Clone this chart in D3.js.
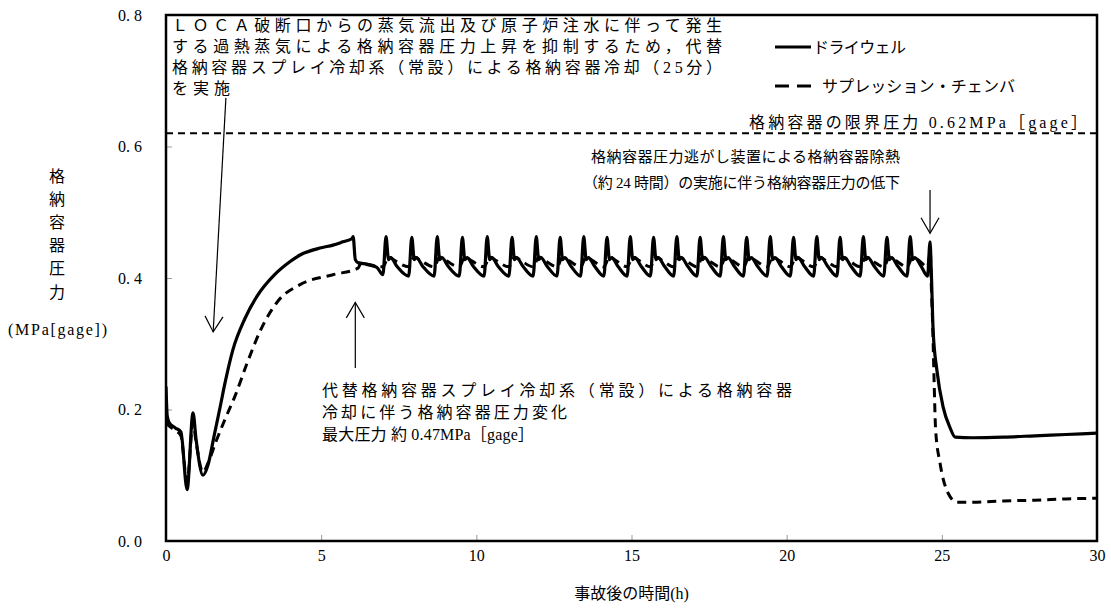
<!DOCTYPE html>
<html>
<head>
<meta charset="utf-8">
<script src="https://cdn.jsdelivr.net/npm/d3@7"></script>
<style>
  body { margin: 0; background: #fff; }
  svg text { fill: #000; }
  .jp { font-family: "Liberation Serif", "Noto Sans CJK JP", serif; font-size: 16px; }
  .jp.small { font-size: 15px; }
  .tick text { font-family: "Liberation Serif", serif; font-size: 16px; }
</style>
</head>
<body>
<script>
// tick values / labels
var xTicks = [0, 5, 10, 15, 20, 25, 30];
var yTicks = [0, 0.2, 0.4, 0.6, 0.8];
var yTickLabels = ["0. 0", "0. 2", "0. 4", "0. 6", "0. 8"];
var limitPressure = 0.62;

// drywell pressure [time (h), MPa gage]
var drywell = [
  [0, 0.235], [0.04, 0.19], [0.1, 0.18], [0.3, 0.172], [0.48, 0.166], [0.68, 0.078],
  [0.87, 0.195], [0.97, 0.154], [1.19, 0.1], [1.35, 0.115], [1.55, 0.16], [1.75, 0.205],
  [1.9, 0.24], [2.15, 0.29], [2.54, 0.338], [2.93, 0.372], [3.5, 0.405], [4, 0.425],
  [4.32, 0.435], [5, 0.446], [5.38, 0.45], [5.7, 0.455], [6.0, 0.46], [6.03, 0.463],
  [6.1, 0.428], [6.2, 0.423], [6.5, 0.421], [6.8, 0.416], [6.99, 0.405],
  [7.09, 0.463], [7.17, 0.428], [7.24, 0.431], [7.44, 0.418], [7.82, 0.403],
  [7.92, 0.462], [8.0, 0.428], [8.07, 0.431], [8.27, 0.418], [8.64, 0.403],
  [8.74, 0.463], [8.82, 0.428], [8.89, 0.431], [9.09, 0.418], [9.45, 0.403],
  [9.55, 0.462], [9.63, 0.428], [9.7, 0.431], [9.9, 0.418], [10.25, 0.403],
  [10.35, 0.463], [10.43, 0.428], [10.5, 0.431], [10.7, 0.418], [11.05, 0.403],
  [11.15, 0.462], [11.23, 0.428], [11.3, 0.431], [11.5, 0.418], [11.83, 0.403],
  [11.93, 0.463], [12.01, 0.428], [12.08, 0.431], [12.28, 0.418], [12.6, 0.403],
  [12.7, 0.462], [12.78, 0.428], [12.85, 0.431], [13.05, 0.418], [13.36, 0.403],
  [13.46, 0.463], [13.54, 0.428], [13.61, 0.431], [13.81, 0.418], [14.11, 0.403],
  [14.21, 0.462], [14.29, 0.428], [14.36, 0.431], [14.56, 0.418], [14.86, 0.403],
  [14.96, 0.463], [15.04, 0.428], [15.11, 0.431], [15.31, 0.418], [15.61, 0.403],
  [15.71, 0.462], [15.79, 0.428], [15.86, 0.431], [16.06, 0.418], [16.36, 0.403],
  [16.46, 0.463], [16.54, 0.428], [16.61, 0.431], [16.81, 0.418], [17.11, 0.403],
  [17.21, 0.462], [17.29, 0.428], [17.36, 0.431], [17.56, 0.418], [17.86, 0.403],
  [17.96, 0.463], [18.04, 0.428], [18.11, 0.431], [18.31, 0.418], [18.61, 0.403],
  [18.71, 0.462], [18.79, 0.428], [18.86, 0.431], [19.06, 0.418], [19.37, 0.403],
  [19.47, 0.463], [19.55, 0.428], [19.62, 0.431], [19.82, 0.418], [20.12, 0.403],
  [20.22, 0.462], [20.3, 0.428], [20.37, 0.431], [20.57, 0.418], [20.87, 0.403],
  [20.97, 0.463], [21.05, 0.428], [21.12, 0.431], [21.32, 0.418], [21.62, 0.403],
  [21.72, 0.462], [21.8, 0.428], [21.87, 0.431], [22.07, 0.418], [22.37, 0.403],
  [22.47, 0.463], [22.55, 0.428], [22.62, 0.431], [22.82, 0.418], [23.13, 0.403],
  [23.23, 0.462], [23.31, 0.428], [23.38, 0.431], [23.58, 0.418], [23.88, 0.403],
  [23.98, 0.463], [24.06, 0.428], [24.13, 0.431], [24.33, 0.418], [24.54, 0.403],
  [24.62, 0.455], [24.66, 0.41], [24.72, 0.32], [24.84, 0.26], [25.04, 0.204],
  [25.26, 0.173], [25.43, 0.158], [26, 0.157], [27, 0.158], [28, 0.16], [29, 0.162], [30, 0.164]
];

// suppression chamber pressure [time (h), MPa gage]
var wetwell = [
  [0, 0.18], [0.1, 0.175], [0.3, 0.168], [0.48, 0.16], [0.68, 0.09], [0.87, 0.18],
  [0.97, 0.15], [1.19, 0.105], [1.35, 0.118], [1.6, 0.15], [1.9, 0.185], [2.22, 0.22],
  [2.61, 0.27], [3.04, 0.32], [3.61, 0.365], [4.32, 0.39], [5.38, 0.405], [6.19, 0.415],
  [6.3, 0.425], [6.5, 0.42], [6.99, 0.417],
  [7.17, 0.432], [7.39, 0.426], [7.82, 0.417],
  [8.0, 0.432], [8.22, 0.426], [8.64, 0.417],
  [8.82, 0.432], [9.04, 0.426], [9.45, 0.417],
  [9.63, 0.432], [9.85, 0.426], [10.25, 0.417],
  [10.43, 0.432], [10.65, 0.426], [11.05, 0.417],
  [11.23, 0.432], [11.45, 0.426], [11.83, 0.417],
  [12.01, 0.432], [12.23, 0.426], [12.6, 0.417],
  [12.78, 0.432], [13.0, 0.426], [13.36, 0.417],
  [13.54, 0.432], [13.76, 0.426], [14.11, 0.417],
  [14.29, 0.432], [14.51, 0.426], [14.86, 0.417],
  [15.04, 0.432], [15.26, 0.426], [15.61, 0.417],
  [15.79, 0.432], [16.01, 0.426], [16.36, 0.417],
  [16.54, 0.432], [16.76, 0.426], [17.11, 0.417],
  [17.29, 0.432], [17.51, 0.426], [17.86, 0.417],
  [18.04, 0.432], [18.26, 0.426], [18.61, 0.417],
  [18.79, 0.432], [19.01, 0.426], [19.37, 0.417],
  [19.55, 0.432], [19.77, 0.426], [20.12, 0.417],
  [20.3, 0.432], [20.52, 0.426], [20.87, 0.417],
  [21.05, 0.432], [21.27, 0.426], [21.62, 0.417],
  [21.8, 0.432], [22.02, 0.426], [22.37, 0.417],
  [22.55, 0.432], [22.77, 0.426], [23.13, 0.417],
  [23.31, 0.432], [23.53, 0.426], [23.88, 0.417],
  [24.06, 0.432], [24.28, 0.426], [24.54, 0.417],
  [24.63, 0.44], [24.66, 0.39], [24.71, 0.32], [24.75, 0.245], [24.8, 0.169],
  [24.94, 0.119], [25.2, 0.073], [25.49, 0.059], [26, 0.059], [27, 0.061],
  [28, 0.062], [29, 0.064], [30, 0.065]
];

// texts
var seriesNames = ["ドライウェル", "サプレッション・チェンバ"];
var noteTop = [
  "ＬＯＣＡ破断口からの蒸気流出及び原子炉注水に伴って発生",
  "する過熱蒸気による格納容器圧力上昇を抑制するため，代替",
  "格納容器スプレイ冷却系（常設）による格納容器冷却（25分）",
  "を実施"
];
var noteSpray = [
  "代替格納容器スプレイ冷却系（常設）による格納容器",
  "冷却に伴う格納容器圧力変化",
  "最大圧力 約 0.47MPa［gage］"
];
var noteVent = [
  "格納容器圧力逃がし装置による格納容器除熱",
  "（約 24 時間）の実施に伴う格納容器圧力の低下"
];
var noteLimit = "格納容器の限界圧力 0.62MPa［gage］";
var yTitle = ["格", "納", "容", "器", "圧", "力"];
var yUnit = "(MPa[gage])";
var xTitle = "事故後の時間(h)";

// dimensions
var svgWidth = 1111;
var svgHeight = 608;
var margin = { top: 15, right: 14, bottom: 67, left: 166 };
var width = svgWidth - margin.left - margin.right;
var height = svgHeight - margin.top - margin.bottom;

var svg = d3.select("body").append("svg")
  .attr("width", svgWidth)
  .attr("height", svgHeight);

var chartGroup = svg.append("g")
  .attr("transform", `translate(${margin.left}, ${margin.top})`);

// scales
var xScale = d3.scaleLinear().domain([0, 30]).range([0, width]);
var yScale = d3.scaleLinear().domain([0, 0.8]).range([height, 0]);

// axes (ticks point inward)
var bottomAxis = d3.axisBottom(xScale)
  .tickValues(xTicks)
  .tickSize(-6)
  .tickPadding(9)
  .tickFormat(d3.format("d"));
var leftAxis = d3.axisLeft(yScale)
  .tickValues(yTicks)
  .tickSize(-6)
  .tickPadding(24)
  .tickFormat((d, i) => yTickLabels[i]);

var xAxisG = chartGroup.append("g")
  .attr("transform", `translate(0, ${height})`)
  .call(bottomAxis);
var yAxisG = chartGroup.append("g").call(leftAxis);
[xAxisG, yAxisG].forEach(function(g) {
  g.select(".domain").remove();
  g.selectAll(".tick line").attr("stroke", "#999").attr("stroke-width", 1);
});

// limit pressure
chartGroup.append("line")
  .attr("x1", 0).attr("x2", width)
  .attr("y1", yScale(limitPressure)).attr("y2", yScale(limitPressure))
  .attr("stroke", "#000").attr("stroke-width", 2)
  .attr("stroke-dasharray", "7,5");

// curves
chartGroup.append("clipPath").attr("id", "plotClip")
  .append("rect").attr("width", width).attr("height", height);

var line = d3.line()
  .x(d => xScale(d[0]))
  .y(d => yScale(d[1]))
  .curve(d3.curveMonotoneX);

chartGroup.append("path")
  .datum(wetwell)
  .attr("clip-path", "url(#plotClip)")
  .attr("fill", "none").attr("stroke", "#000").attr("stroke-width", 3)
  .attr("stroke-dasharray", "9,6")
  .attr("d", line);

chartGroup.append("path")
  .datum(drywell)
  .attr("clip-path", "url(#plotClip)")
  .attr("fill", "none").attr("stroke", "#000").attr("stroke-width", 3.2)
  .attr("stroke-linejoin", "round")
  .attr("d", line);

// frame
chartGroup.append("rect")
  .attr("width", width).attr("height", height)
  .attr("fill", "none").attr("stroke", "#000").attr("stroke-width", 2.5);

// arrows
function arrow(t1, p1, t2, p2) {
  var x1 = xScale(t1), y1 = yScale(p1), x2 = xScale(t2), y2 = yScale(p2);
  var a = Math.atan2(y2 - y1, x2 - x1), len = 18, spread = Math.PI / 6;
  var g = chartGroup.append("g").attr("stroke", "#000").attr("stroke-width", 1.2).attr("fill", "none");
  g.append("line").attr("x1", x1).attr("y1", y1).attr("x2", x2).attr("y2", y2);
  g.append("path").attr("d",
    `M${x2 - len * Math.cos(a - spread)},${y2 - len * Math.sin(a - spread)}` +
    `L${x2},${y2}` +
    `L${x2 - len * Math.cos(a + spread)},${y2 - len * Math.sin(a + spread)}`);
}
arrow(1.93, 0.674, 1.52, 0.318);
arrow(6.1, 0.263, 6.1, 0.363);
arrow(24.62, 0.534, 24.62, 0.468);

// annotation text
function textLines(lines, x, y0, step, lengths, cls) {
  lines.forEach(function(s, i) {
    var t = svg.append("text").attr("class", cls || "jp")
      .attr("x", Array.isArray(x) ? x[i] : x).attr("y", y0 + i * step)
      .attr("dominant-baseline", "central")
      .text(s);
    if (lengths && lengths[i]) t.attr("textLength", lengths[i]).attr("lengthAdjust", "spacing");
  });
}
textLines(noteTop, 172, 25, 21, [550, 550, 550, 58]);
textLines(noteSpray, 322, 390, 22, [470, 245, 212]);
textLines(noteVent, [591, 583], 157, 26, [309, 317], "jp small");
svg.append("text").attr("class", "jp")
  .attr("x", 1087).attr("y", 122).attr("text-anchor", "end")
  .attr("dominant-baseline", "central")
  .attr("textLength", 338).attr("lengthAdjust", "spacing")
  .text(noteLimit);

// legend
svg.append("line").attr("x1", 775).attr("x2", 811).attr("y1", 47).attr("y2", 47)
  .attr("stroke", "#000").attr("stroke-width", 3);
svg.append("line").attr("x1", 775).attr("x2", 811).attr("y1", 86).attr("y2", 86)
  .attr("stroke", "#000").attr("stroke-width", 3).attr("stroke-dasharray", "14,8");
svg.append("text").attr("class", "jp").attr("x", 813).attr("y", 47)
  .attr("dominant-baseline", "central").attr("textLength", 93).attr("lengthAdjust", "spacing")
  .text(seriesNames[0]);
svg.append("text").attr("class", "jp").attr("x", 822).attr("y", 86)
  .attr("dominant-baseline", "central").attr("textLength", 193).attr("lengthAdjust", "spacing")
  .text(seriesNames[1]);

// axis titles
yTitle.forEach(function(c, i) {
  svg.append("text").attr("class", "jp")
    .attr("x", 57).attr("y", 176 + i * 23.2)
    .attr("text-anchor", "middle").attr("dominant-baseline", "central")
    .text(c);
});
svg.append("text").attr("class", "jp")
  .attr("x", 8).attr("y", 329)
  .attr("dominant-baseline", "central")
  .attr("textLength", 99).attr("lengthAdjust", "spacing")
  .text(yUnit);
svg.append("text").attr("class", "jp")
  .attr("x", margin.left + width / 2).attr("y", 593)
  .attr("text-anchor", "middle").attr("dominant-baseline", "central")
  .text(xTitle);
</script>
</body>
</html>
